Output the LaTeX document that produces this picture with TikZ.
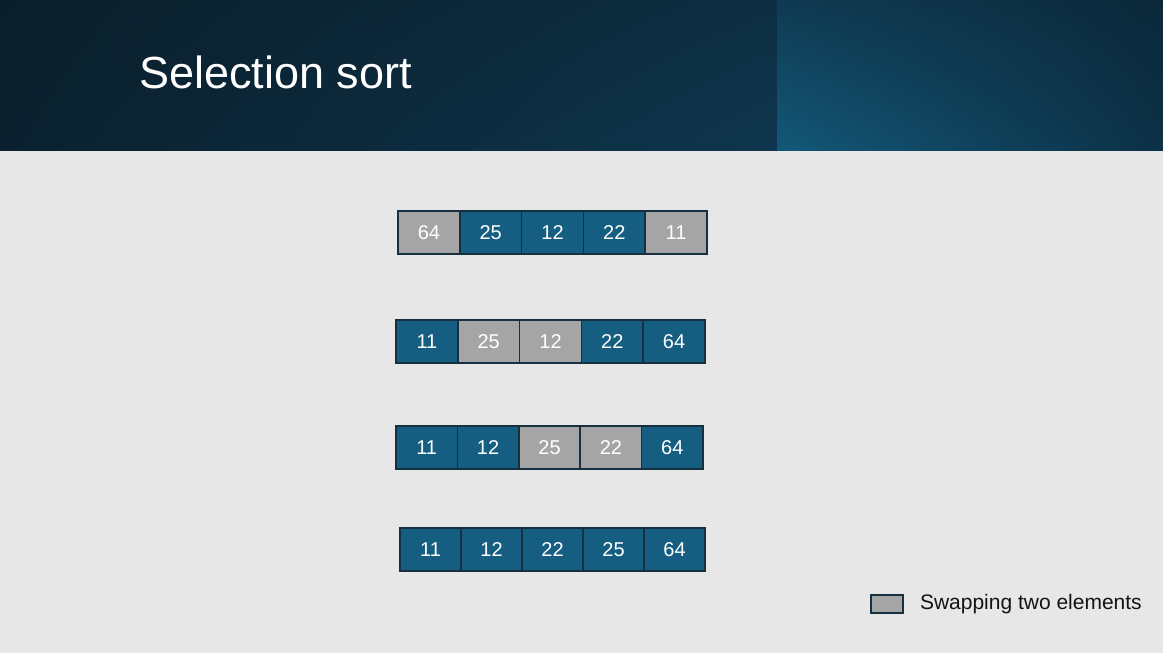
\documentclass[tikz,border=0pt]{standalone}
\usepackage{fontspec}
\setmainfont{Liberation Sans}
\usetikzlibrary{positioning,shadings}
\definecolor{slidebg}{HTML}{E7E7E7}
\definecolor{cellblue}{HTML}{155E81}
\definecolor{cellgray}{HTML}{A5A5A5}
\definecolor{celledge}{HTML}{17303F}
\definecolor{keyink}{HTML}{141414}
\definecolor{headA}{RGB}{10,30,42}
\definecolor{headB}{RGB}{10,32,46}
\definecolor{headC}{RGB}{13,46,66}
\definecolor{headD}{RGB}{14,54,78}
\definecolor{panelA}{RGB}{15,58,82}
\definecolor{panelB}{RGB}{19,88,120}
\definecolor{panelC}{RGB}{11,40,58}
\definecolor{panelD}{RGB}{12,48,70}
\tikzset{
  cell/.style={draw=celledge, line width=1.6pt, minimum height=43pt,
    inner sep=0pt, text=white, font=\fontsize{20}{24}\selectfont},
  legendbox/.style={draw=celledge, line width=1.6pt, fill=cellgray, minimum width=32pt,
    minimum height=18pt, inner sep=0pt}
}
\begin{document}
\begin{tikzpicture}[x=1pt,y=-1pt]
  % slide background and header
  \fill[slidebg] (0,0) rectangle (1163,653);
  \useasboundingbox (0,0) rectangle (1163,653);
  \shade[upper left=headA, lower left=headB, upper right=headC, lower right=headD]
    (0,0) rectangle (777,150);
  \shade[upper left=panelA, lower left=panelB, upper right=panelC, lower right=panelD]
    (777,0) rectangle (1163,150);
  \node[anchor=base west, inner sep=0pt, text=white, font=\fontsize{45}{54}\selectfont]
    (title) at (139,88) {Selection sort};

  % the four passes
  \foreach \r/\x/\y/\w/\cells in {
      1/398/211/61.8/{64/cellgray,25/cellblue,12/cellblue,22/cellblue,11/cellgray},
      2/396/320/61.8/{11/cellblue,25/cellgray,12/cellgray,22/cellblue,64/cellblue},
      3/396/426/61.4/{11/cellblue,12/cellblue,25/cellgray,22/cellgray,64/cellblue},
      4/400/528/61/{11/cellblue,12/cellblue,22/cellblue,25/cellblue,64/cellblue}} {
    \foreach \v/\c [count=\i] in \cells
      \node[cell, fill=\c, minimum width=\w pt] (r\r c\i) at (\x+\w*\i-\w/2, \y+21.5) {\v};
  }

  % legend
  \node[legendbox] (key) at (887,604) {};
  \node[right=16pt of key, inner sep=0pt, text=keyink,
        font=\fontsize{21}{25}\selectfont] (keytext) {Swapping two elements};
\end{tikzpicture}
\end{document}
